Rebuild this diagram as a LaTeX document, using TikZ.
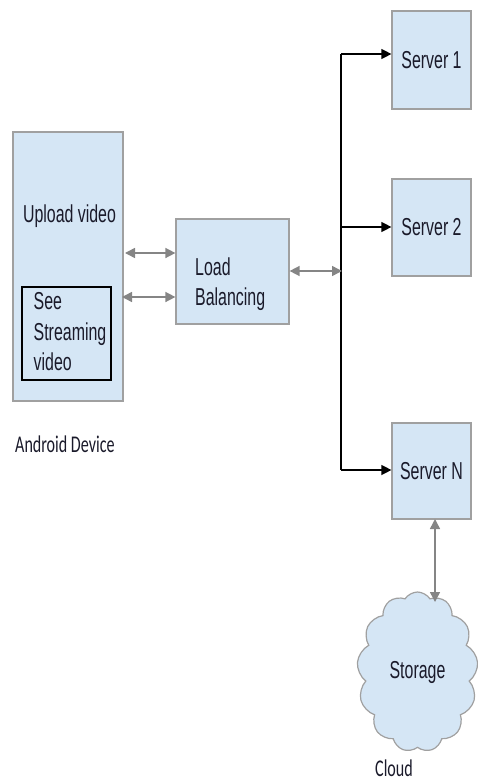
\documentclass[tikz,border=0pt]{standalone}
\usepackage{fontspec}
\setmainfont[FakeStretch=0.65]{Liberation Sans}
\newfontfamily\labfont[FakeStretch=0.67]{Carlito}
\usetikzlibrary{arrows.meta,shapes.symbols}
\definecolor{boxfill}{HTML}{D5E6F5}
\definecolor{boxline}{HTML}{A0A0A0}
\definecolor{arrgray}{HTML}{858585}
\definecolor{txt}{HTML}{1A1A2A}
\tikzset{
  box/.style={draw=boxline, line width=1.2pt, fill=boxfill, rectangle, inner sep=0pt, text=txt, font=\fontsize{24.5}{30}\selectfont},
  innerbox/.style={draw=black, line width=1.1pt, rectangle, inner sep=0pt},
  txtnode/.style={inner sep=0pt, text=txt, font=\fontsize{24.5}{30.5}\selectfont, align=left},
  lab/.style={inner sep=0pt, text=txt, font=\labfont\fontsize{24}{24}\selectfont},
  garrow/.style={draw=arrgray, line width=1.5pt, {Triangle[length=10pt,width=10pt]}-{Triangle[length=10pt,width=10pt]}, color=arrgray},
  barrow/.style={draw=black, line width=1.3pt, -{Triangle[length=10pt,width=10pt]}},
}
\begin{document}
\begin{tikzpicture}[x=1pt,y=-1pt]
\useasboundingbox (0,0) rectangle (477,781);
% Android device
\node[box, minimum width=110pt, minimum height=269pt] (and) at (68,266.5) {};
\node[innerbox, minimum width=89pt, minimum height=93pt] (inner) at (66.5,333.5) {};
\node[txtnode, anchor=base] (up) at (69.5,222.5) {Upload video};
\node[txtnode, anchor=north west] (see) at (33.5,292.5) {See\\Streaming\\video};
\node[lab, anchor=base west] (andlab) at (15,452) {Android Device};
% Load balancing
\node[box, minimum width=113pt, minimum height=105pt] (lb) at (232.5,271.5) {};
\node[txtnode, anchor=north west] (lbt) at (195,257.5) {Load\\Balancing};
% Servers
\node[box, minimum width=79pt, minimum height=98pt] (s1) at (431.5,60) {Server 1};
\node[box, minimum width=79pt, minimum height=97pt] (s2) at (431.5,227.5) {Server 2};
\node[box, minimum width=79pt, minimum height=96pt] (sN) at (431.5,471) {Server N};
% Cloud
\node[cloud, cloud puffs=13, cloud puff arc=115, aspect=0.75, draw=boxline, line width=1.2pt,
  fill=boxfill, minimum width=121pt, minimum height=160pt, inner sep=0pt, text=txt,
  font=\fontsize{24.5}{24.5}\selectfont] (cl) at (417.5,672) {Storage};
\node[lab, anchor=base west] (cllab) at (375,776.5) {Cloud};
% coordinates
\coordinate (b1) at (341,54);
\coordinate (b2) at (341,227);
\coordinate (bN) at (341,470);
\coordinate (bLB) at (342,271);
\coordinate (a1) at (125,253);
\coordinate (a2) at (122,297);
\coordinate (ct) at (435,602);
\coordinate (cs) at (435,519);
% connectors
\draw[black, line width=1.3pt] (b1) -- (bN);
\draw[barrow] (b1) -- (b1 -| s1.west);
\draw[barrow] (b2) -- (b2 -| s2.west);
\draw[barrow] (bN) -- (bN -| sN.west);
\draw[garrow] (lb.east |- bLB) -- (bLB);
\draw[garrow] (a1) -- (a1 -| lb.west);
\draw[garrow] (a2) -- (a2 -| lb.west);
\draw[garrow] (cs) -- (ct);
\end{tikzpicture}
\end{document}
